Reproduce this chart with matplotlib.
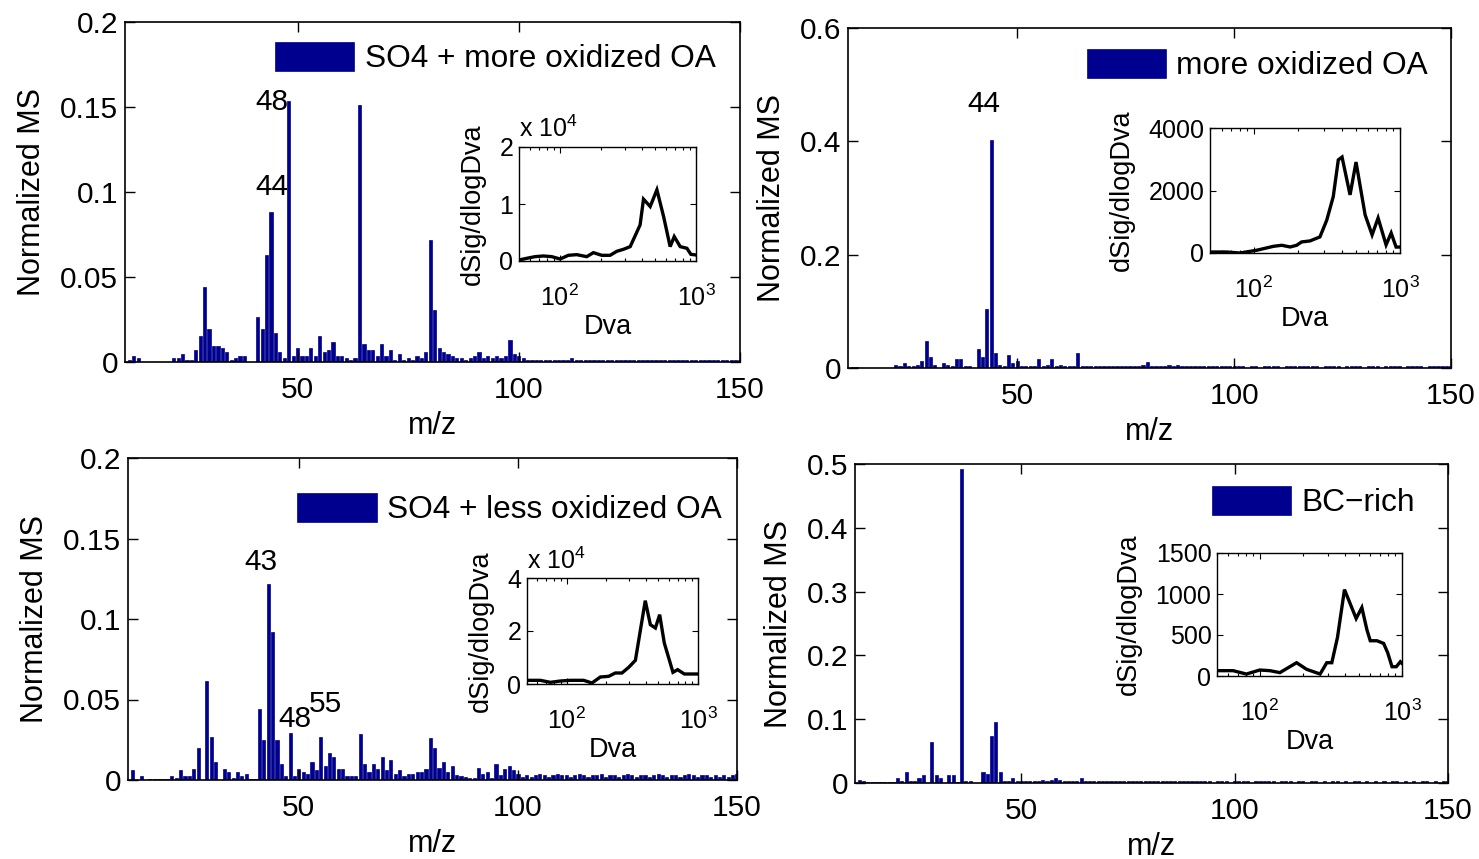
import matplotlib
matplotlib.use('Agg')
import matplotlib.pyplot as plt

plt.rcParams['font.family'] = ['Liberation Sans', 'DejaVu Sans']
plt.rcParams['mathtext.fontset'] = 'custom'
plt.rcParams['mathtext.rm'] = 'Liberation Sans'
plt.rcParams['mathtext.it'] = 'Liberation Sans:italic'
plt.rcParams['mathtext.bf'] = 'Liberation Sans:bold'

# ---------------- data ----------------
mz = list(range(12, 151))

ms_so4_more_ox = [
    .0014, .0033, .0024, 0, 0, 0, 0, 0, 0, 0,
    .0024, .0024, .0045, .001, .001, .0069, .0151, .0441, .0196, .0094,
    .0094, .0082, .0059, .001, .0024, .0035, .0035, 0, 0, .0267,
    .0196, .0627, .0882, .0173, .0059, .0025, .1535, .0035, .0082, .0035,
    .0035, .0082, .0035, .0151, .0059, .0069, .0116, .0035, .0035, .0024,
    .001, .0024, .1514, .0104, .0069, .0069, .0035, .0104, .0035, .0069,
    .001, .0045, .001, .0024, .001, .0035, .0024, .0059, .072, .0304,
    .0082, .0059, .0045, .0035, .0024, .0024, .0014, .0024, .0035, .0059,
    .0024, .0035, .0024, .0035, .0024, .0035, .0127, .0045, .0035, .0024,
    .0014, .001, .0014, .001, .0014, .001, .001, .0014, .001, .0014,
    .0024, .0014, .001, .0014, .001, .0014, .001, .0014, .001, .0014,
    .001, .0014, .001, .0014, .001, .0014, .001, .0014, .001, .0014,
    .001, .0014, .001, .0014, .001, .0014, .001, .0014, .001, .001,
    .0014, .001, .001, .0014, .001, .001, .0014, .001, .001]

ms_more_ox = [
    .002, .002, 0, 0, 0, 0, 0, 0, 0, 0,
    .0047, .003, .0089, .003, .003, .0059, .013, .047, .019, .0059,
    0, .0089, .0059, .003, .016, .016, .003, .003, 0, .034,
    .0196, .104, .403, .027, .0059, .003, .0225, .0089, .012, .003,
    .003, .003, .003, .016, .003, .0059, .016, .003, .0059, .003,
    .003, .003, .027, .003, .003, .003, .003, .004, .003, .004,
    .003, .003, .003, .003, .003, .004, .003, .006, .010, .004,
    .003, .003, .004, .005, .003, .005, .003, .004, .003, .004,
    .003, .003, .003, .003, .003, .003, .003, .003, .003, .003,
    .003, 0, .003, .003, 0, .003, .003, .003, .003, 0,
    .003, .003, .003, .003, .003, .003, .003, .003, 0, .003,
    .003, .003, .003, 0, .003, .003, .003, .003, 0, .003,
    .003, .003, 0, .003, .003, .003, .003, 0, .003, .003,
    .003, .003, 0, .003, .003, .003, .003, .003, .003]

ms_so4_less_ox = [
    .006, 0, .0025, 0, .0005, .0005, .0005, .0005, .0005, .0025,
    .001, .006, .0025, .0025, .007, .0197, 0, .0613, .0269, .0112,
    0, .007, .005, .001, .005, .0025, .0035, .0005, .0005, .0443,
    .0246, .1215, .0921, .0246, .0097, .0025, .0294, .0025, .007, .005,
    .0035, .0112, .006, .0269, .0087, .017, .0145, .007, .007, .0025,
    .0025, .0025, .0284, .0097, .005, .0097, .007, .0145, .006, .0122,
    .0035, .006, .0025, .0035, .0035, .005, .005, .007, .0259, .0197,
    .0072, .011, .005, .0085, .003, .0025, .002, .0015, .001, .0072,
    .004, .005, .001, .0097, .003, .0066, .0085, .006, .004, .002,
    .003, .002, .003, .004, .003, .002, .003, .004, .003, .003,
    .002, .003, .004, .003, .002, .003, .003, .004, .002, .003,
    .003, .002, .003, .004, .003, .002, .003, .003, .002, .003,
    .004, .003, .002, .003, .003, .002, .003, .004, .003, .002,
    .003, .003, .002, .003, .002, .003, .002, .003, .0035]

ms_bc_rich = [
    .0052, .0026, .0008, .0008, .0008, .0008, .0008, .0008, .0008, .0084,
    .0026, .018, .0026, .0026, .0078, .012, 0, .064, .012, .0078,
    0, .012, .012, .0016, .4927, .0026, .0026, 0, 0, .018,
    .0146, .0737, .0956, .018, .0026, .0026, .0078, .0035, .0035, .0035,
    .0035, .0035, .0035, .0052, .0035, .0052, .0078, .0052, .0035, .0035,
    .0035, .0035, .0078, .0035, .0035, .0035, .0035, .0035, .0035, .0035,
    .0035, .0035, .0035, .0035, .0035, .0035, .0035, .0035, .0035, .0035,
    .0035, .0035, .0035, .0035, .0035, .0035, .0035, .0035, .0035, .0035,
    .0035, .0035, .0035, 0, .0035, .0035, .0035, 0, .0035, .0035,
    .0035, .0035, 0, .0035, .0035, .0035, .0035, .0035, 0, .0035,
    .0035, .0035, 0, .0035, .0035, 0, .0035, .0035, 0, .0035,
    0, .0035, .0035, 0, .0035, 0, .0035, .0035, 0, .0035,
    0, .0035, 0, .0035, 0, .0035, .0035, 0, .0035, 0,
    .0035, 0, .0035, .0035, 0, .0035, 0, .0035, .0035]

dva_so4_more_ox = [50, 56.9, 65.6, 75.5, 87.0, 100.2, 115.3, 132.8, 157.3, 176.2, 202.9,
                   233.6, 261.7, 293.1, 328.3, 388.3, 411.3, 460.6, 515.9, 577.8, 645.6,
                   691.8, 765.6, 857.5, 916.6, 1000]
dsig_so4_more_ox = [176, 469, 762, 880, 762, 352, 997, 1114, 762, 1466, 997,
                    997, 1701, 2053, 2522, 6334, 10850, 9560, 12492, 7800, 2522,
                    4281, 2522, 2229, 1173, 1056]

dva_more_ox = [50, 65, 80, 104, 136, 155, 177, 196, 212, 242, 283, 315, 349, 378,
               401, 455, 500, 577, 644, 708, 803, 870, 940, 1000]
dsig_more_ox = [32, 32, 0, 86, 214, 247, 193, 247, 354, 386, 515, 1050, 1800, 2980,
                3070, 1860, 2910, 1220, 580, 1120, 260, 640, 190, 190]

dva_so4_less_ox = [50, 63.2, 75.3, 89.7, 106.9, 135, 156, 180.7, 209, 235, 264, 297,
                   334, 397, 434, 474, 511, 554, 645, 700, 787, 875, 1000]
dsig_so4_less_ox = [1384, 1384, 629, 1132, 1384, 1384, 377, 2642, 2893, 4151, 4151, 6289,
                    8931, 31447, 22390, 21132, 26164, 15472, 4403, 5409, 3774, 3774, 3774]

dva_bc_rich = [50, 64.9, 80.5, 100, 117.7, 138.4, 181.4, 213.6, 265.5, 295.8, 320.9,
               351.7, 394, 476, 522, 566, 598, 667, 743, 793, 851, 912, 973, 1000]
dsig_bc_rich = [65, 65, 24, 73, 65, 41, 162, 81, 24, 162, 162,
                470, 1054, 701, 835, 567, 430, 430, 397, 284, 113, 113, 174, 154]

legend_labels = ['SO4 + more oxidized OA', 'more oxidized OA',
                 'SO4 + less oxidized OA', 'BC\u2212rich']

# ---------------- figure ----------------
W, H = 1479, 859
fig = plt.figure(figsize=(W / 100, H / 100), dpi=100)
BAR = '#00008F'


def px_rect(l, r, t, b):
    return [l / W, 1 - b / H, (r - l) / W, (b - t) / H]


def main_panel(rect, values, ymax, yticks, yticklabels, label, anchor):
    ax = fig.add_axes(rect)
    bars = ax.bar(mz, values, width=0.72, color=BAR, edgecolor=BAR,
                  linewidth=0.5, label=label)
    ax.set_xlim(11, 150)
    ax.set_ylim(0, ymax)
    ax.set_xticks([50, 100, 150])
    ax.set_yticks(yticks)
    ax.set_yticklabels(yticklabels)
    ax.tick_params(direction='in', top=True, right=True, length=7, width=1,
                   labelsize=21.5)
    ax.tick_params(axis='y', pad=5)
    ax.tick_params(axis='x', pad=10)
    for s in ax.spines.values():
        s.set_linewidth(1.2)
    ax.set_xlabel('m/z', fontsize=22, labelpad=5)
    ax.set_ylabel('Normalized MS', fontsize=22, labelpad=9)
    ax.legend(handles=[bars], loc='upper right', bbox_to_anchor=anchor,
              frameon=False, fontsize=22.8, handlelength=2.5, handleheight=1.0,
              handletextpad=0.33, borderpad=0, borderaxespad=0)
    return ax


def inset(rect, dva, dsig, scale, ymax, yticks, yticklabels, mult_label):
    ax = fig.add_axes(rect)
    ax.set_facecolor('white')
    ax.plot(dva, [v / scale for v in dsig], color='black', lw=2.4,
            solid_joinstyle='miter')
    ax.set_xscale('log')
    ax.set_xlim(50, 1000)
    ax.set_ylim(0, ymax)
    ax.set_xticks([100, 1000])
    ax.set_xticklabels([r'10$^{2}$', r'10$^{3}$'])
    ax.set_yticks(yticks)
    ax.set_yticklabels(yticklabels)
    ax.tick_params(which='both', direction='in', top=True, right=True,
                   width=0.8, labelsize=18)
    ax.tick_params(which='major', length=4)
    ax.tick_params(which='minor', length=2.5)
    ax.tick_params(axis='y', pad=4)
    ax.tick_params(axis='x', pad=17)
    for s in ax.spines.values():
        s.set_linewidth(1.0)
    ax.set_xlabel('Dva', fontsize=19.5, labelpad=2)
    ax.set_ylabel('dSig/dlogDva', fontsize=19.5, labelpad=10)
    if mult_label:
        ax.text(0.0, 1.04, mult_label, transform=ax.transAxes, ha='left',
                va='bottom', fontsize=18)
    return ax


ax1 = main_panel(px_rect(125, 740, 22, 362), ms_so4_more_ox, 0.2,
                 [0, 0.05, 0.1, 0.15, 0.2], ['0', '0.05', '0.1', '0.15', '0.2'],
                 legend_labels[0], (0.96, 0.94))
ax1.text(47.9, 0.153, '48', ha='right', va='center', fontsize=21.5)
ax1.text(47.9, 0.103, '44', ha='right', va='center', fontsize=21.5)

ax2 = main_panel(px_rect(848, 1451, 28, 368), ms_more_ox, 0.6,
                 [0, 0.2, 0.4, 0.6], ['0', '0.2', '0.4', '0.6'],
                 legend_labels[1], (0.962, 0.937))
ax2.text(42.4, 0.466, '44', ha='center', va='center', fontsize=21.5)

ax3 = main_panel(px_rect(128, 737, 458, 780), ms_so4_less_ox, 0.2,
                 [0, 0.05, 0.1, 0.15, 0.2], ['0', '0.05', '0.1', '0.15', '0.2'],
                 legend_labels[2], (0.975, 0.89))
ax3.text(41.3, 0.1354, '43', ha='center', va='center', fontsize=21.5)
ax3.text(49.2, 0.0379, '48', ha='center', va='center', fontsize=21.5)
ax3.text(56.0, 0.0472, '55', ha='center', va='center', fontsize=21.5)

ax4 = main_panel(px_rect(855, 1448, 464, 783), ms_bc_rich, 0.5,
                 [0, 0.1, 0.2, 0.3, 0.4, 0.5], ['0', '0.1', '0.2', '0.3', '0.4', '0.5'],
                 legend_labels[3], (0.944, 0.93))

inset(px_rect(519, 696, 147, 261), dva_so4_more_ox, dsig_so4_more_ox, 1e4, 2,
      [0, 1, 2], ['0', '1', '2'], r'x 10$^{4}$')
inset(px_rect(1210, 1400, 128, 253), dva_more_ox, dsig_more_ox, 1, 4000,
      [0, 2000, 4000], ['0', '2000', '4000'], None)
inset(px_rect(527, 698, 578, 684), dva_so4_less_ox, dsig_so4_less_ox, 1e4, 4,
      [0, 2, 4], ['0', '2', '4'], r'x 10$^{4}$')
inset(px_rect(1217, 1402, 553, 676), dva_bc_rich, dsig_bc_rich, 1, 1500,
      [0, 500, 1000, 1500], ['0', '500', '1000', '1500'], None)

fig.savefig('out.png', dpi=100)
